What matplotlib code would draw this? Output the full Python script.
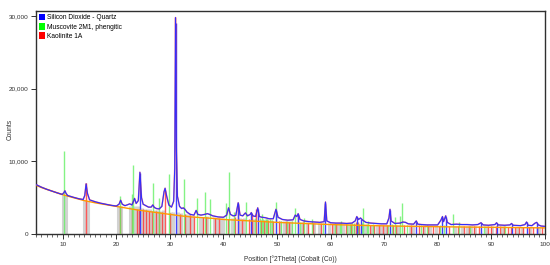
import matplotlib
matplotlib.use("Agg")
import matplotlib.pyplot as plt
from matplotlib.patches import Patch
from matplotlib.ticker import FuncFormatter, MultipleLocator

scan_x = [5.0, 6.0, 7.0, 8.0, 9.0, 9.9, 10.2, 10.4, 10.6, 10.9, 12.0, 13.0, 13.8, 14.1, 14.35, 14.6,
          15.0, 16.0, 17.0, 18.0, 19.0, 20.0, 20.5, 20.8, 21.1, 21.6, 22.0, 22.5, 22.9, 23.2, 23.4,
          23.7, 24.1, 24.4, 24.7, 25.0, 25.5, 26.0, 26.5, 26.8, 27.1, 27.5, 28.0, 28.5, 28.9, 29.1,
          29.4, 29.8, 30.3, 30.7, 30.9, 31.05, 31.2, 31.4, 31.8, 32.2, 32.5, 32.8, 33.2, 33.8, 34.5,
          34.9, 35.2, 35.8, 36.5, 37.0, 37.4, 38.0, 39.0, 40.0, 40.6, 40.95, 41.3, 41.8, 42.3, 42.75,
          43.1, 43.6, 44.1, 44.5, 45.0, 45.2, 45.5, 46.0, 46.4, 46.7, 47.2, 47.8, 48.5, 49.3, 49.8,
          50.2, 51.0, 52.0, 53.0, 53.4, 53.7, 53.95, 54.3, 55.0, 56.0, 57.0, 58.0, 58.8, 59.05, 59.3,
          60.0, 61.0, 62.0, 63.0, 64.0, 64.6, 64.9, 65.2, 65.6, 66.0, 66.6, 67.5, 68.5, 69.5, 70.5,
          70.9, 71.1, 71.3, 72.0, 73.0, 73.5, 74.0, 74.5, 75.5, 76.0, 76.3, 77.0, 78.0, 79.0, 80.0,
          80.6, 80.9, 81.1, 81.5, 81.8, 82.5, 83.5, 84.5, 85.5, 86.5, 87.5, 88.1, 88.5, 89.5, 90.7,
          91.0, 91.3, 92.5, 93.5, 93.8, 94.1, 95.5, 96.3, 96.6, 96.9, 97.6, 98.2, 98.5, 98.8, 99.3,
          100.0]
scan_y = [6800, 6450, 6150, 5900, 5650, 5450, 5700, 5950, 5600, 5300, 5050, 4850, 4750, 5300, 6900, 5600,
          4700, 4450, 4250, 4100, 3950, 3850, 4100, 4650, 4100, 3900, 4000, 4150, 4000, 4500, 4900,
          4200, 4600, 8500, 5000, 4100, 3900, 3700, 3700, 4000, 3650, 3500, 3450, 3800, 5800, 6300,
          5200, 4000, 3700, 4500, 9000, 29800, 12000, 5200, 3800, 3500, 3600, 3400, 3000, 2700, 2600,
          3250, 2700, 2600, 2700, 2800, 2700, 2500, 2350, 2300, 2600, 3600, 2700, 2500, 2550, 4300,
          2600, 2500, 2900, 2500, 2700, 2950, 2500, 2400, 3600, 2400, 2300, 2250, 2100, 2100, 3400,
          2300, 2000, 1900, 1950, 2600, 2400, 2800, 2000, 1800, 1700, 1650, 1600, 1700, 4400, 1800,
          1550, 1500, 1500, 1450, 1500, 1800, 2400, 2000, 2200, 1900, 1600, 1500, 1450, 1400, 1400,
          2200, 3400, 1800, 1450, 1500, 1650, 1600, 1400, 1350, 1800, 1350, 1300, 1250, 1250, 1250,
          1900, 2400, 1700, 2500, 1600, 1300, 1350, 1300, 1300, 1250, 1300, 1550, 1250, 1200, 1300,
          1550, 1250, 1200, 1250, 1450, 1200, 1150, 1300, 1650, 1200, 1150, 1500, 1600, 1250, 1100,
          1050]

# fitted background
bg_x = [5, 6, 8, 10, 12, 14, 16, 18, 20, 22, 24, 26, 28, 30, 32, 34, 36, 38, 40, 45, 50, 55, 60,
        65, 70, 75, 80, 85, 90, 95, 100]
bg_y = [6700, 6400, 5900, 5400, 5000, 4600, 4300, 4050, 3800, 3550, 3300, 3100, 2900, 2700, 2500,
        2350, 2250, 2150, 2000, 1800, 1600, 1450, 1300, 1200, 1120, 1060, 1000, 960, 920, 880, 840]

# peak list markers (grey)
grey_pos = [10.1, 10.6, 14.0, 14.7, 20.3, 20.9, 22.6, 23.5, 24.0, 24.8, 25.3, 25.8, 26.3, 27.2, 27.6,
            28.2, 28.7, 30.2, 30.6, 31.5, 32.0, 33.0, 33.5, 34.2, 35.6, 36.0, 37.0, 38.2, 38.8, 39.5,
            40.0, 41.6, 43.0, 43.8, 45.6, 48.0, 48.8, 50.6, 51.3, 52.0, 52.6, 54.6, 55.6, 57.0, 57.8,
            59.8, 60.6, 61.4, 62.4, 63.4, 66.4, 67.8, 68.6, 69.4, 70.2, 72.6, 74.8, 75.4, 77.5, 78.6,
            79.6, 83.2, 84.6, 85.4, 86.2, 87.0, 89.0, 90.2, 92.0, 94.8, 95.8, 97.2, 99.0]
grey_h = [5400, 5300, 4700, 4600, 3900, 3800, 3800, 3900, 3800, 3600, 3500, 3400, 3400, 3300, 3300,
          3200, 3300, 3000, 3000, 3000, 2900, 2800, 2700, 2500, 2400, 2400, 2500, 2300, 2200, 2200,
          2200, 2200, 2200, 2150, 2100, 2000, 1950, 1850, 1800, 1750, 1750, 1650, 1600, 1550, 1500,
          1450, 1400, 1400, 1400, 1350, 1350, 1300, 1300, 1300, 1250, 1250, 1250, 1200, 1200, 1150,
          1150, 1150, 1100, 1100, 1100, 1100, 1050, 1050, 1050, 1000, 1000, 1000, 950]

# Kaolinite 1A
kao_pos = [14.4, 20.7, 23.0, 23.8, 24.3, 24.9, 25.5, 26.1, 26.6, 27.4, 28.0, 28.5, 29.0, 30.0, 31.9,
           32.9, 33.7, 34.5, 36.1, 36.8, 38.5, 39.2, 40.8, 42.2, 42.7, 43.4, 44.8, 45.3, 46.1, 47.0,
           47.6, 48.4, 49.2, 50.3, 51.6, 52.3, 53.9, 54.9, 55.8, 56.8, 58.3, 60.2, 61.0, 62.8, 63.8,
           64.3, 64.7, 65.1, 65.4, 67.3, 68.2, 69.0, 69.8, 70.6, 71.6, 72.3, 73.8, 75.0, 76.6, 77.2,
           78.2, 79.2, 80.2, 82.2, 83.8, 85.0, 85.8, 86.8, 87.8, 89.4, 90.0, 90.8, 91.6, 92.4, 93.2,
           93.6, 94.4, 95.2, 96.0, 97.0, 97.8, 98.6, 99.4]
kao_h = [7000, 3800, 3400, 3400, 3500, 3400, 3300, 3200, 3200, 3100, 3000, 3000, 6000, 2900, 2800,
         2700, 2600, 2500, 2400, 2400, 2250, 2200, 2100, 2300, 4100, 2100, 2000, 2700, 3500, 1950,
         1900, 1900, 1850, 1800, 1750, 1700, 2500, 1600, 1550, 1500, 1500, 1400, 1400, 1350, 1350,
         1350, 1700, 1600, 1400, 1300, 1300, 1300, 1250, 1250, 1300, 1250, 1200, 1200, 1200, 1150,
         1150, 1150, 1150, 1100, 1100, 1100, 1100, 1050, 1050, 1050, 1050, 1050, 1050, 1050, 1000,
         1000, 1000, 1000, 1000, 1000, 1000, 1000, 950]

# Muscovite 2M1, phengitic
mus_pos = [10.3, 20.6, 23.0, 23.2, 26.8, 27.9, 29.8, 32.6, 35.0, 36.5, 37.5, 40.4, 41.1, 42.0, 44.2,
           45.8, 46.8, 47.2, 47.4, 47.9, 48.2, 48.6, 49.0, 49.9, 50.8, 51.9, 52.8, 53.3, 54.2, 55.0,
           56.5, 58.6, 60.9, 61.8, 62.0, 63.0, 63.6, 64.0, 64.4, 65.2, 65.8, 66.0, 66.8, 67.0, 68.0,
           70.8, 71.4, 72.0, 73.0, 73.4, 74.2, 76.8, 78.0, 80.4, 81.2, 82.9, 84.0, 86.0, 88.6, 92.6]
mus_h = [11400, 5200, 5500, 9500, 7000, 4900, 8300, 7600, 5000, 5800, 4800, 4300, 8600, 3000, 4400,
         2200, 2200, 2800, 2100, 2050, 2050, 2000, 1950, 4400, 1850, 1800, 1800, 3600, 1700, 2200,
         2000, 1550, 1450, 1450, 1800, 1400, 1400, 1450, 1500, 1500, 1450, 3600, 1400, 1800, 1350,
         1300, 1350, 2300, 2500, 4200, 1300, 1250, 1250, 1200, 1200, 2700, 1700, 1150, 1100, 1100]

# Silicon Dioxide - Quartz
qtz_pos = [24.4, 31.05, 42.75, 45.2, 46.4, 49.8, 53.95, 59.05, 64.9, 65.6, 71.1, 76.0, 80.9, 81.5,
           88.1, 91.0, 93.8, 96.6, 98.5]
qtz_h = [8400, 29000, 4200, 2900, 3500, 3300, 2700, 4300, 2300, 2100, 3300, 1700, 2300, 2400, 1500,
         1500, 1400, 1600, 1550]

fig = plt.figure(figsize=(5.5, 2.65), dpi=100)
ax = fig.add_axes([0.0655, 0.117, 0.925, 0.8415])

ax.vlines(grey_pos, 0, grey_h, color="#d2d2d2", linewidth=2.2, zorder=1)
ax.vlines(kao_pos, 0, kao_h, color="#ff3030", linewidth=1.0, alpha=0.8, zorder=2)
ax.vlines(mus_pos, 0, mus_h, color="#66f066", linewidth=1.0, alpha=0.8, zorder=3)
ax.vlines(qtz_pos, 0, qtz_h, color="#4040ff", linewidth=1.0, zorder=4)

ax.plot(bg_x, bg_y, color="#ff9a00", linewidth=1.0, zorder=5)
ax.plot(scan_x, scan_y, color="#ff2020", linewidth=1.1, alpha=0.55, zorder=6)
ax.plot(scan_x, scan_y, color="#2f2fff", linewidth=0.8, zorder=7)

ax.set_xlim(5, 100)
ax.set_ylim(0, 30700)
ax.xaxis.set_major_locator(MultipleLocator(10))
ax.xaxis.set_minor_locator(MultipleLocator(1))
ax.yaxis.set_major_locator(MultipleLocator(10000))
ax.yaxis.set_major_formatter(FuncFormatter(lambda v, p: f"{int(v):,}"))

for s in ax.spines.values():
    s.set_color("#303030")
    s.set_linewidth(1.0)
ax.tick_params(axis="both", which="major", labelsize=4.6, length=3.5, width=0.7,
               colors="#303030", pad=2)
ax.tick_params(axis="both", which="minor", length=2, width=0.5, colors="#303030")
for t in ax.get_xticklabels() + ax.get_yticklabels():
    t.set_fontfamily("Liberation Sans")

ax.set_xlabel("Position [°2Theta] (Cobalt (Co))", fontsize=4.8, family="Liberation Sans",
              color="#303030", labelpad=6)
ax.set_ylabel("Counts", fontsize=4.8, family="Liberation Sans", color="#303030")
ax.yaxis.set_label_coords(-0.045, 0.47)

handles = [Patch(facecolor="#0000ff", label="Silicon Dioxide - Quartz"),
           Patch(facecolor="#00ff00", label="Muscovite 2M1, phengitic"),
           Patch(facecolor="#ff0000", label="Kaolinite 1A")]
ax.legend(handles=handles, loc="upper left", frameon=False,
          prop={"family": "Liberation Sans", "size": 4.8},
          handlelength=0.9, handleheight=1.2, handletextpad=0.3, labelspacing=0.25,
          borderaxespad=0.1, borderpad=0.3)

fig.savefig("out.png", dpi=100)
